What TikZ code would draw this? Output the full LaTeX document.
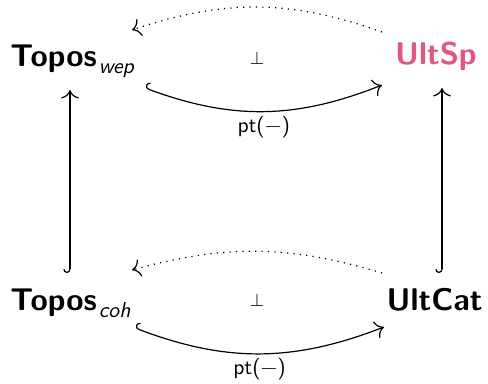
\documentclass[tikz,border=0pt]{standalone}
\usepackage{fontspec}
\usetikzlibrary{arrows.meta,calc}
\definecolor{ultpink}{RGB}{230,84,128}
\tikzset{
  obj/.style={inner sep=0pt, font=\fontsize{15.7}{19}\selectfont\sffamily\bfseries},
  lbl/.style={inner sep=1pt, font=\fontsize{10.8}{12}\selectfont\sffamily},
  perpsym/.style={inner sep=0pt, font=\fontsize{9.5}{11}\selectfont},
  tipe/.style={-{Computer Modern Rightarrow[scale=1.45]}},
  conn/.style={line width=0.6pt, tipe},
  incl/.style={line width=0.6pt, {Hooks[right,scale=1.25]}-{Computer Modern Rightarrow[scale=1.45]}},
  dots/.style={conn, dash pattern=on 0.6pt off 2.6pt},
}
\newcommand{\subsc}[1]{\raisebox{-3.2pt}{\kern1pt\fontsize{10.8}{12}\selectfont\mdseries\itshape #1}}
\begin{document}
\begin{tikzpicture}[x=0.5pt,y=0.5pt]
\useasboundingbox (0,0) rectangle (488,384);
\node[obj, anchor=base west] (wep) at (10,317) {Topos\subsc{wep}};
\node[obj, anchor=base east, text=ultpink] (ultsp) at (477,319) {UltSp};
\node[obj, anchor=base west] (coh) at (10,73) {Topos\subsc{coh}};
\node[obj, anchor=base east] (ultcat) at (483,73) {UltCat};
\node[perpsym] (adj1) at (257,325.5) {$\perp$};
\node[perpsym] (adj2) at (257,84) {$\perp$};
\draw[incl] ([shift={(135,-21)}]wep.base west) to[bend right=21]
  node[lbl, below=1pt] {pt(−)} ([shift={(-95,-20)}]ultsp.base east);
\draw[dots] ([shift={(-95,33)}]ultsp.base east) to[bend right=19]
  ([shift={(122,37)}]wep.base west);
\draw[incl] ([shift={(60,38)}]coh.base west) -- ([shift={(60,-23)}]wep.base west);
\draw[incl] ([shift={(-41,38)}]ultcat.base east) -- ([shift={(-35,-23)}]ultsp.base east);
\draw[incl] ([shift={(125,-17)}]coh.base west) to[bend right=21]
  node[lbl, below=1pt] {pt(−)} ([shift={(-99,-16)}]ultcat.base east);
\draw[dots] ([shift={(-101,38)}]ultcat.base east) to[bend right=16]
  ([shift={(122,41)}]coh.base west);
\end{tikzpicture}
\end{document}
